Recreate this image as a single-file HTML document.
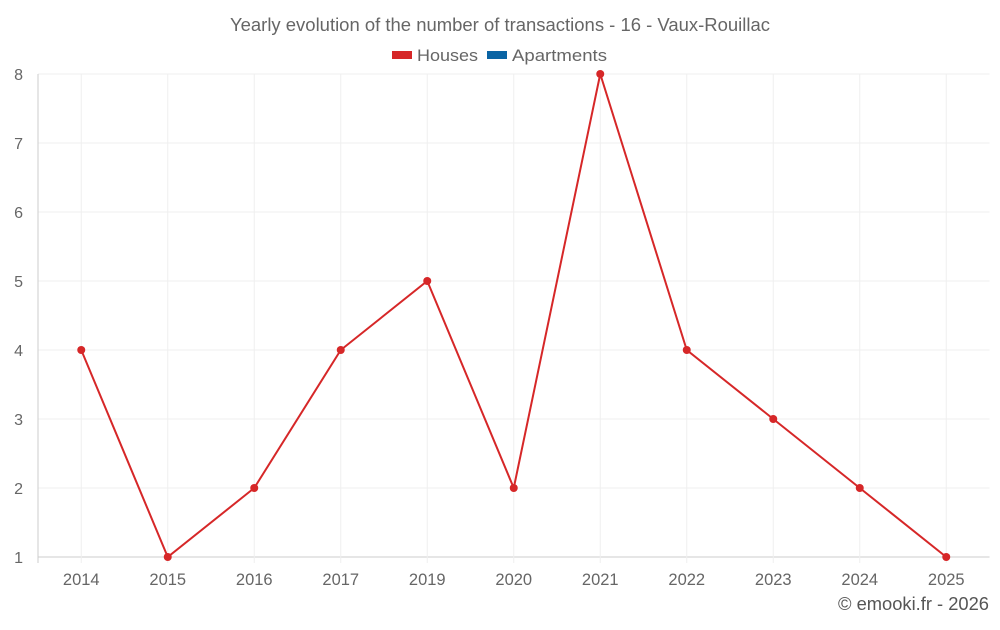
<!DOCTYPE html>
<html><head><meta charset="utf-8"><style>
body{margin:0;background:#fff;font-family:"Liberation Sans",sans-serif;}
svg text{font-family:"Liberation Sans",sans-serif;}
</style></head><body>
<svg id="chart" width="1000" height="625" viewBox="0 0 1000 625" xmlns="http://www.w3.org/2000/svg">
<text x="500" y="31" text-anchor="middle" font-size="18" fill="#666" textLength="540" lengthAdjust="spacingAndGlyphs">Yearly evolution of the number of transactions - 16 - Vaux-Rouillac</text>
<g>
<g><rect x="392" y="51" width="20" height="8" fill="#d62728"/><text x="417" y="61" font-size="17" fill="#666" textLength="61" lengthAdjust="spacingAndGlyphs">Houses</text></g>
<g><rect x="487" y="51" width="20" height="8" fill="#0a64a4"/><text x="512" y="61" font-size="17" fill="#666" textLength="95" lengthAdjust="spacingAndGlyphs">Apartments</text></g>
</g>
<g id="grid"></g>
<g id="axes"></g>
<g id="series"></g>
<text x="989" y="610" text-anchor="end" font-size="18" fill="#555" textLength="151" lengthAdjust="spacingAndGlyphs">© emooki.fr - 2026</text>
</svg>
<script>
const categories=["2014","2015","2016","2017","2019","2020","2021","2022","2023","2024","2025"];
const houses=[4,1,2,4,5,2,8,4,3,2,1];
const apartments=[];
const yTicks=[1,2,3,4,5,6,7,8];
const NS="http://www.w3.org/2000/svg";
const L=38,R=989.5,T=74,B=557,yMin=1,yMax=8;
const step=(R-L)/categories.length;
function x(i){return L+step*(i+0.5);}
function y(v){return B-(v-yMin)/(yMax-yMin)*(B-T);}
function mk(tag,attrs,parent){const e=document.createElementNS(NS,tag);for(const k in attrs)e.setAttribute(k,attrs[k]);parent.appendChild(e);return e;}
const grid=document.getElementById('grid'),axes=document.getElementById('axes'),series=document.getElementById('series');
yTicks.forEach(v=>{
 const l=mk('line',{x1:L,x2:R,y1:y(v),y2:y(v),stroke:v===yMin?'#ccc':'#efefef','stroke-width':1},grid);
 
 
 const t=mk('text',{x:L-15,y:y(v)+6,'text-anchor':'end','font-size':16,fill:'#666'},axes);
 t.textContent=v;
 
 
});
mk('line',{x1:L,x2:L,y1:T,y2:B+6,stroke:'#ccc'},grid);
categories.forEach((c,i)=>{
 const l=mk('line',{x1:x(i),x2:x(i),y1:T,y2:B+6,stroke:'#efefef'},grid);
 
 
 const t=mk('text',{x:x(i),y:B+28,'text-anchor':'middle','font-size':16.5,fill:'#666'},axes);
 t.textContent=c;
 
 
});
const p=mk('polyline',{points:houses.map((v,i)=>x(i)+','+y(v)).join(' '),fill:'none',stroke:'#d62728','stroke-width':2},series);


houses.forEach((v,i)=>{
 const c=mk('circle',{cx:x(i),cy:y(v),r:4,fill:'#d62728'},series);
 
 
});
</script>
</body></html>
